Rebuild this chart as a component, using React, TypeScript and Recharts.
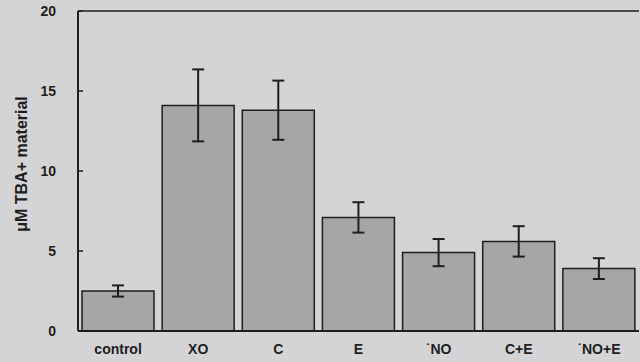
import { BarChart, Bar, XAxis, YAxis, ErrorBar, ReferenceLine } from "recharts"

const groups = ["control", "XO", "C", "E", "˙NO", "C+E", "˙NO+E"]
const meanTBA = [2.5, 14.1, 13.8, 7.1, 4.9, 5.6, 3.9]
const semTBA = [0.35, 2.25, 1.85, 0.95, 0.85, 0.95, 0.65]
const yTicks = [0, 5, 10, 15, 20]

const data = groups.map((g, i) => ({ group: g, value: meanTBA[i], err: semTBA[i] }))

const ink = "#1e1e1e"
const tickFont = { fontSize: 14, fontWeight: 700, fill: ink, fontFamily: "Liberation Sans, Arial, sans-serif" }

export default function App() {
  return (
    <div style={{ width: 640, height: 362, background: "#d4d4d6", position: "relative" }}>
      <style>{"body{margin:0}"}</style>
      <BarChart
        width={640}
        height={362}
        data={data}
        margin={{ top: 11, right: 1, left: 0, bottom: 0 }}
        barCategoryGap="5%"
      >
        <XAxis
          dataKey="group"
          height={31}
          tick={tickFont}
          tickLine={false}
          tickMargin={7}
          axisLine={{ stroke: ink, strokeWidth: 2 }}
        />
        <YAxis
          width={78}
          domain={[0, 20]}
          ticks={yTicks}
          tick={tickFont}
          tickSize={-5}
          tickMargin={27}
          tickLine={{ stroke: ink, strokeWidth: 1.5 }}
          axisLine={{ stroke: ink, strokeWidth: 2 }}
          label={{
            value: "μM TBA+ material",
            angle: -90,
            position: "insideLeft",
            offset: 21,
            dy: -7,
            style: { ...tickFont, fontSize: 16, textAnchor: "middle" },
          }}
        />
        <ReferenceLine y={20} stroke={ink} strokeWidth={1.5} />
        <Bar dataKey="value" fill="#a6a6a8" stroke={ink} strokeWidth={1.5} isAnimationActive={false}>
          <ErrorBar dataKey="err" width={6} stroke={ink} strokeWidth={2} />
        </Bar>
      </BarChart>
    </div>
  )
}
